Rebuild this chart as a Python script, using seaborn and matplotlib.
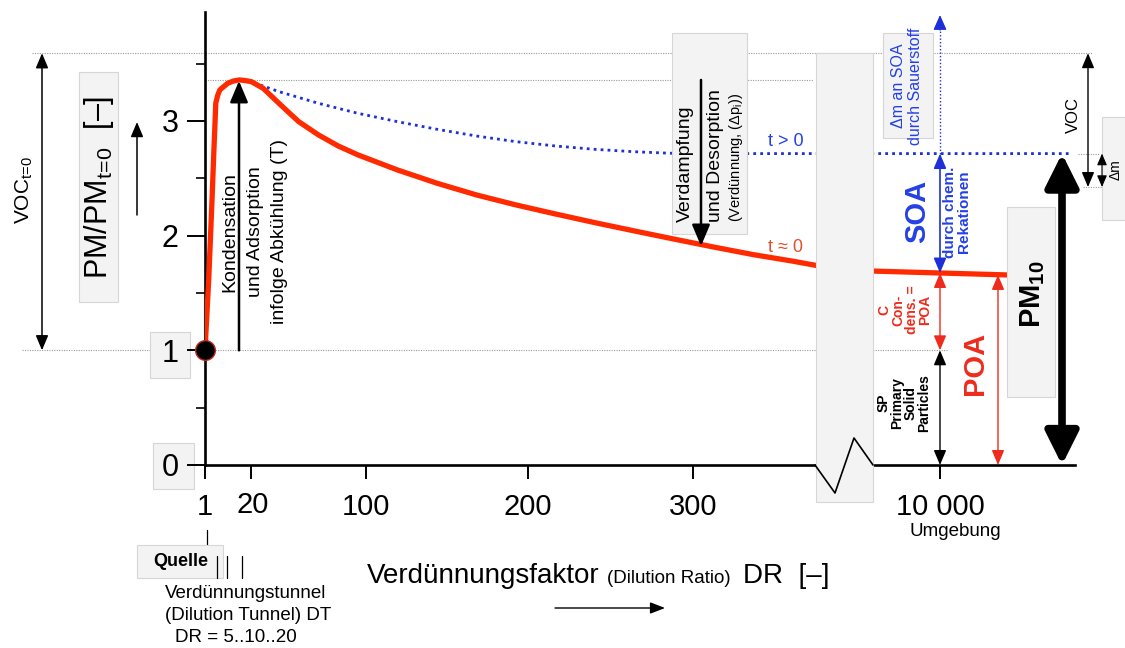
import numpy as np
import pandas as pd
import matplotlib
matplotlib.use("Agg")
import matplotlib.pyplot as plt
import seaborn as sns
from matplotlib.patches import Rectangle

# ---------------- data ----------------
# red curve (t ~ 0): PM/PM_t0 versus dilution ratio DR
dr_red = [1, 2.53, 3.85, 4.63, 5.46, 6.29, 7.11, 10.38, 12.77, 15.25, 17.52, 20.28,
          28.49, 39.48, 46.4, 53.25, 67.03, 80.73, 94.5, 119.5, 143.95, 168.3, 192.7,
          216.8, 240.8, 264.7, 288.7, 312.6, 336.5, 360.4, 374.8, 8000, 10000, 11970]
pm_red = [1.0, 1.613, 2.284, 2.718, 3.156, 3.226, 3.270, 3.328, 3.348, 3.357, 3.352,
          3.342, 3.284, 3.153, 3.072, 2.993, 2.877, 2.781, 2.703, 2.572, 2.456, 2.354,
          2.267, 2.188, 2.112, 2.040, 1.969, 1.900, 1.834, 1.777, 1.739, 1.691, 1.674,
          1.657]
# blue dotted curve (t > 0)
dr_blue = [1, 2.53, 3.85, 4.63, 5.46, 6.29, 7.11, 10.38, 12.77, 15.25, 17.52, 20.0,
           39.48, 67.03, 94.43, 119.5, 143.8, 168.3, 192.6, 216.8, 240.6, 264.7,
           286.1, 333.9, 367.7, 8000, 13880]
pm_blue = [1.0, 1.613, 2.284, 2.718, 3.156, 3.226, 3.270, 3.328, 3.348, 3.357, 3.352,
           3.342, 3.255, 3.153, 3.066, 2.993, 2.927, 2.868, 2.819, 2.781, 2.752, 2.731,
           2.718, 2.715, 2.715, 2.715, 2.715]
voc_level = 3.59           # VOC_t=0 upper level
x_ticks = [1, 20, 100, 200, 300, 10000]
x_ticklabels = ["1", "", "100", "200", "300", "10 000"]
y_major = [0, 1, 2, 3]
y_minor = [0.5, 1.5, 2.5, 3.5]

# ---------------- style ----------------
sns.set_theme(style="ticks")
plt.rcParams["font.family"] = ["Liberation Sans", "DejaVu Sans"]
plt.rcParams["mathtext.fontset"] = "custom"
plt.rcParams["mathtext.rm"] = "Liberation Sans"
plt.rcParams["mathtext.it"] = "Liberation Sans:italic"
plt.rcParams["mathtext.bf"] = "Liberation Sans:bold"

RED = "#ff2a00"
BLUE = "#1c2fd8"
TBLUE = "#2440e6"
TRED = "#ee2b1c"
BOXF = "#f3f3f3"
BOXE = "#d6d6d6"

W, H = 1125, 648
fig = plt.figure(figsize=(W / 100, H / 100), dpi=100)
fig.patch.set_facecolor("white")

# overlay axes in pixel coordinates for annotations
pa = fig.add_axes([0, 0, 1, 1], zorder=3)
pa.set_xlim(0, W)
pa.set_ylim(H, 0)
pa.axis("off")

# main axes
ax = fig.add_axes([205 / W, (H - 465) / H, 870 / W, 453 / H], zorder=1)
ax.set_facecolor("white")

# piecewise (schematic, broken) x scale
DR_A = np.array([1, 20, 100, 200, 300, 375, 8000, 10000, 14000.0])
PX_A = np.array([205, 251, 366, 528, 693, 817, 872, 940, 1076.0])


def _pw(v, xa, ya):
    v = np.asarray(v, dtype=float)
    out = np.interp(v, xa, ya)
    lo = (ya[1] - ya[0]) / (xa[1] - xa[0])
    hi = (ya[-1] - ya[-2]) / (xa[-1] - xa[-2])
    out = np.where(v < xa[0], ya[0] + (v - xa[0]) * lo, out)
    out = np.where(v > xa[-1], ya[-1] + (v - xa[-1]) * hi, out)
    return out


def fwd(v):
    return _pw(v, DR_A, PX_A)


def inv(p):
    return _pw(p, PX_A, DR_A)


df_red = pd.DataFrame({"DR": dr_red, "PM": pm_red})
df_blue = pd.DataFrame({"DR": dr_blue, "PM": pm_blue})

sns.lineplot(data=df_blue, x="DR", y="PM", ax=ax, color=BLUE, lw=2.0,
             linestyle=(0, (1, 1.5)), sort=False, estimator=None, zorder=2)
sns.lineplot(data=df_red, x="DR", y="PM", ax=ax, color=RED, lw=3.8,
             sort=False, estimator=None, zorder=3, solid_capstyle="round",
             solid_joinstyle="round")
ax.scatter([dr_red[0]], [pm_red[0]], s=200, c="black", edgecolors="#c0281c",
           linewidths=1.0, zorder=5, clip_on=False)

ax.set_xscale("function", functions=(fwd, inv))
ax.set_xlim(1, float(inv(1075)))
ax.set_ylim(0, 453 / 114.7)
ax.set_xlabel("")
ax.set_ylabel("")
ax.set_axisbelow(True)

for s in ["top", "right"]:
    ax.spines[s].set_visible(False)
for s in ["left", "bottom"]:
    ax.spines[s].set_linewidth(1.9)
    ax.spines[s].set_color("black")

ax.set_xticks(x_ticks)
ax.set_xticklabels(x_ticklabels)
ax.set_xticks([], minor=True)
ax.set_yticks(y_major)
ax.set_yticklabels([str(v) for v in y_major])
ax.set_yticks(y_minor, minor=True)
ax.tick_params(axis="x", which="major", direction="out", length=10, width=1.4,
               labelsize=21, pad=10, colors="black")
ax.tick_params(axis="y", which="major", direction="out", length=13, width=1.4,
               labelsize=22, pad=6, colors="black")
ax.tick_params(axis="y", which="minor", direction="out", length=6.5, width=1.4)


def Y(v):
    return pa.transData.inverted().transform(ax.transData.transform((2.0, v)))[1]


def X(v):
    return pa.transData.inverted().transform(ax.transData.transform((v, 1.0)))[0]


# gray dotted reference lines (beneath tick label boxes)
gl = dict(transform=pa.transData, clip_on=False, color="#9a9a9a", lw=0.8,
          ls=(0, (1, 1.2)), zorder=0.2)
y_voc = Y(voc_level)
y_peak = Y(max(pm_red))
y_one = Y(1.0)
y_zero = Y(0.0)
y_tpos = Y(pm_blue[-1])
ax.plot([32, 1092], [y_voc, y_voc], **gl)
ax.plot([205, 813], [y_peak, y_peak], **gl)
ax.plot([22, 947], [y_one, y_one], **gl)
ax.plot([1078, 1100], [y_tpos, y_tpos], **gl)
ax.plot([1083, 1102], [187, 187], **gl)

# boxes behind y tick labels "1" and "0"
for (bx, by, bw, bh) in [(150, 332, 40, 46), (153, 443, 41, 46)]:
    ax.add_patch(Rectangle((bx, by), bw, bh, transform=pa.transData, clip_on=False,
                           fc=BOXF, ec=BOXE, lw=0.8, zorder=0.3))


def box(x, y, w, h, z=2):
    pa.add_patch(Rectangle((x, y), w, h, fc=BOXF, ec=BOXE, lw=0.8, zorder=z))


def arrow(x0, y0, x1, y1, style="-|>", color="black", lw=1.2, hl=0.9, hw=0.38,
          ms=10, z=4):
    pa.annotate("", xy=(x1, y1), xytext=(x0, y0),
                arrowprops=dict(arrowstyle=f"{style},head_length={hl},head_width={hw}",
                                color=color, lw=lw, shrinkA=0, shrinkB=0,
                                mutation_scale=ms), zorder=z)


def txt(x, y, s, size, color="black", rot=0, weight="normal", ha="center",
        va="center", ls=1.2, z=5):
    pa.text(x, y, s, fontsize=size, color=color, rotation=rot, fontweight=weight,
            ha=ha, va=va, linespacing=ls, multialignment="center", zorder=z)


SUB = r"$_{\mathrm{t\!=\!0}}$"

# left: VOC_t=0
arrow(42, y_one, 42, y_voc, style="<|-|>", lw=1.1)
txt(24, 190, "VOC" + SUB, 15, rot=90)

# y label
box(79, 72, 39, 230)
txt(99, 187, "PM/PM" + SUB + "  [–]", 22, rot=90)
arrow(137, 215, 137, 122, lw=1.1)

# Kondensation arrow
arrow(239, y_one, 239, y_peak + 1, lw=1.8, hl=1.3, hw=0.55)
txt(230, 232, "Kondensation", 14, rot=90)
txt(255, 232, "und Adsorption", 14, rot=90)
txt(279, 232, "infolge Abkühlung (T)", 14, rot=90)

# Verdampfung box
box(672, 33, 75, 201)
arrow(701, y_peak, 701, 246, lw=1.8, hl=1.3, hw=0.55)
txt(685, 222, "Verdampfung", 14, rot=90, va="bottom")
txt(716, 222, "und Desorption", 14, rot=90, va="bottom")
txt(736, 222, r"(Verdünnung, (Δp$_{\mathrm{i}}$))", 10.5, rot=90, va="bottom")

txt(786, 141, "t > 0", 13, color=TBLUE)
txt(786, 247, "t ≈ 0", 13, color="#e0502a")

# break in the x axis
box(816, 53, 57, 449, z=2)
pa.plot([815, 835, 854, 873], [y_zero, 493, 438, y_zero], color="black", lw=1.2,
        zorder=3)

# Δm an SOA
box(883, 33, 50, 105)
txt(907, 86, "Δm an SOA\ndurch Sauerstoff", 11.5, color=TBLUE, rot=90)
x_dr = X(10000)
pa.plot([x_dr, x_dr], [y_tpos, 26], color=BLUE, lw=1.0, ls=(0, (1, 1.5)), zorder=4)
arrow(x_dr, 30, x_dr, 15, color=BLUE, lw=1.0, hl=0.9, hw=0.4)

# SOA
y_red_dr = Y(pm_red[-2])
arrow(x_dr, y_tpos, x_dr, y_red_dr, style="<|-|>", color=BLUE, lw=1.2)
txt(917, 211, "SOA", 21, color=TBLUE, rot=90, weight="bold")
txt(957, 212, "durch chem.\nRekationen", 11, color=TBLUE, rot=90, weight="bold",
    ls=1.0)

# C condensed = POA
arrow(x_dr, y_red_dr, x_dr, y_one, style="<|-|>", color=TRED, lw=1.0)
txt(905, 310, "C\nCon-\ndens. =\nPOA", 10, color=TRED, rot=90, weight="bold", ls=0.95)

# SP
arrow(x_dr, y_one, x_dr, y_zero, style="<|-|>", color="black", lw=1.0)
txt(904, 403, "SP\nPrimary\nSolid\nParticles", 10, rot=90, weight="bold", ls=0.95)

# POA
arrow(998, Y(pm_red[-1]), 998, y_zero, style="<|-|>", color=TRED, lw=1.0)
txt(975, 363, "POA", 21, color=TRED, rot=90, weight="bold")

# PM10
box(1007, 207, 48, 190)
txt(1033, 294, r"PM$_{\mathbf{10}}$", 21, rot=90, weight="bold")
arrow(1062, y_tpos, 1062, y_zero, style="<|-|>", lw=5.5, hl=1.0, hw=0.5, ms=20)

# VOC / Δm on the right
arrow(1088, y_voc, 1088, 187, style="<|-|>", lw=1.0)
txt(1073, 115, "VOC", 12, rot=90)
box(1102, 117, 30, 103)
arrow(1102, y_tpos, 1102, 187, style="<|-|>", lw=0.8, hl=0.7, hw=0.3)
txt(1116, 170, "Δm", 10, rot=90)

# x axis extras
txt(253, 513, "20", 21, va="baseline")
txt(955, 532, "Umgebung", 13.5)
pa.plot([207, 207], [530, 548], color="black", lw=0.9)
box(137, 545, 86, 33)
txt(181, 562, "Quelle", 13, weight="bold")
for bx in [217, 227, 242]:
    pa.plot([bx, bx], [556, 578], color="black", lw=0.9, zorder=4)
txt(165, 593, "Verdünnungstunnel", 13.5, ha="left")
txt(165, 615, "(Dilution Tunnel) DT", 13.5, ha="left")
txt(175, 638, "DR = 5..10..20", 13.5, ha="left")

txt(367, 583, "Verdünnungsfaktor", 20, ha="left", va="baseline")
txt(607, 583, "(Dilution Ratio)", 13.5, ha="left", va="baseline")
txt(743, 583, "DR  [–]", 20, ha="left", va="baseline")
arrow(555, 608, 665, 608, lw=1.0, hl=0.9, hw=0.35)

fig.savefig("out.png", dpi=100, facecolor="white")
